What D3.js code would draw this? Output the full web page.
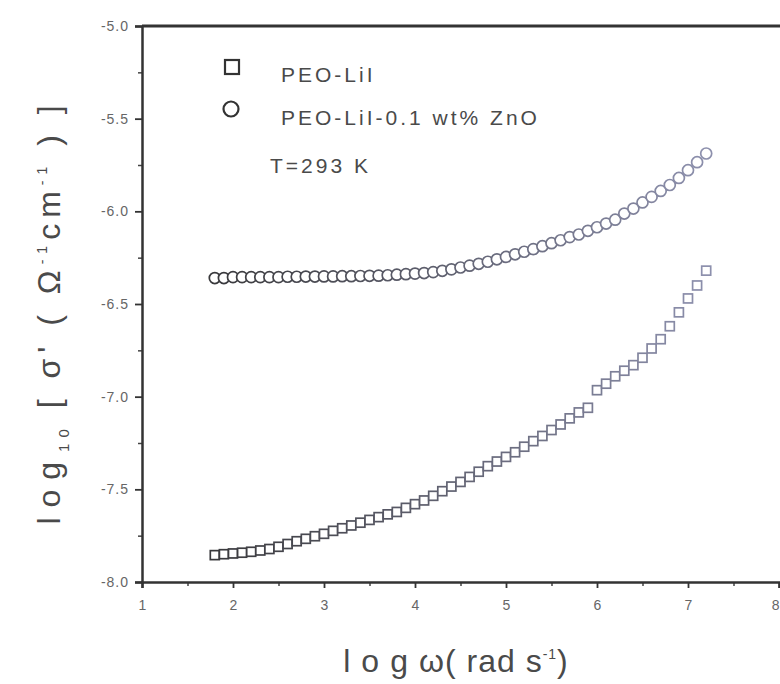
<!DOCTYPE html>
<html>
<head>
<meta charset="utf-8">
<script src="https://cdn.jsdelivr.net/npm/d3@7"></script>
<style>
	body { margin: 0; background: #fff; }
	svg { display: block; }
	.tick text { font-family: "Liberation Sans", Arial, sans-serif; fill: #666; }
</style>
</head>
<body>
<div id="chart"></div>
<script>
// log w values (rad s^-1), same frequency set for both samples
const logW = [1.8, 1.9, 2.0, 2.1, 2.2, 2.3, 2.4, 2.5, 2.6, 2.7, 2.8, 2.9, 3.0, 3.1, 3.2, 3.3, 3.4, 3.5, 3.6, 3.7,
	3.8, 3.9, 4.0, 4.1, 4.2, 4.3, 4.4, 4.5, 4.6, 4.7, 4.8, 4.9, 5.0, 5.1, 5.2, 5.3, 5.4, 5.5, 5.6, 5.7,
	5.8, 5.9, 6.0, 6.1, 6.2, 6.3, 6.4, 6.5, 6.6, 6.7, 6.8, 6.9, 7.0, 7.1, 7.2]

// PEO-LiI (squares)
const sigmaPeo = [-7.855, -7.85, -7.846, -7.842, -7.837, -7.83, -7.822, -7.81, -7.795, -7.78, -7.767, -7.753, -7.74, -7.724, -7.71, -7.695, -7.68, -7.665, -7.65, -7.635,
	-7.622, -7.6, -7.58, -7.56, -7.535, -7.51, -7.485, -7.46, -7.433, -7.405, -7.375, -7.35, -7.325, -7.3, -7.27, -7.24, -7.212, -7.18, -7.15, -7.117,
	-7.085, -7.06, -6.965, -6.93, -6.89, -6.86, -6.83, -6.79, -6.74, -6.69, -6.62, -6.545, -6.47, -6.4, -6.32]

// PEO-LiI-0.1 wt% ZnO (circles)
const sigmaZnO = [-6.36, -6.36, -6.355, -6.355, -6.355, -6.355, -6.355, -6.355, -6.353, -6.353, -6.352, -6.352, -6.351, -6.351, -6.35, -6.35, -6.349, -6.348, -6.347, -6.345,
	-6.342, -6.339, -6.336, -6.333, -6.328, -6.321, -6.313, -6.303, -6.293, -6.283, -6.272, -6.259, -6.246, -6.232, -6.218, -6.204, -6.188, -6.172, -6.156, -6.139,
	-6.125, -6.105, -6.086, -6.066, -6.045, -6.012, -5.985, -5.952, -5.922, -5.89, -5.858, -5.82, -5.778, -5.735, -5.688]

const xTicks = [1, 2, 3, 4, 5, 6, 7, 8]
const yTicks = [-5.0, -5.5, -6.0, -6.5, -7.0, -7.5, -8.0]
const yTickLabels = ["-5.0", "-5.5", "-6.0", "-6.5", "-7.0", "-7.5", "-8.0"]
const legendLabels = ["PEO-LiI", "PEO-LiI-0.1 wt% ZnO"]
const tempLabel = "T=293 K"

const w = 780, h = 684
const box = { left: 142, right: 779, top: 26, bottom: 582 }
const font = '"Liberation Sans", Arial, sans-serif'

const svg = d3.select("#chart").append("svg")
	.attr("width", w)
	.attr("height", h)

const x = d3.scaleLinear().domain([1, 8]).range([box.left, box.right])
const y = d3.scaleLinear().domain([-8, -5]).range([box.bottom, box.top])

// marker colour fades to the right like the photographed print
const shade = d3.scaleLinear().domain([2, 7.2]).range(["#3c3c40", "#8d90ad"])

// minor ticks
svg.append("g")
	.attr("transform", "translate(" + box.left + ",0)")
	.call(d3.axisLeft(y).tickValues(d3.range(-7.75, -5, 0.5)).tickSize(4).tickFormat(""))
	.call(g => g.select(".domain").remove())
	.call(g => g.selectAll("line").attr("stroke", "#444").attr("stroke-width", 1.5))

svg.append("g")
	.attr("transform", "translate(0," + box.bottom + ")")
	.call(d3.axisBottom(x).tickValues(d3.range(1.5, 8, 1)).tickSize(4).tickFormat(""))
	.call(g => g.select(".domain").remove())
	.call(g => g.selectAll("line").attr("stroke", "#444").attr("stroke-width", 1.5))

// major ticks
svg.append("g")
	.attr("transform", "translate(" + box.left + ",0)")
	.call(d3.axisLeft(y).tickValues(yTicks).tickSize(7).tickPadding(6)
		.tickFormat((d, i) => yTickLabels[i]))
	.call(g => g.select(".domain").attr("stroke", "#333").attr("stroke-width", 2.5))
	.call(g => g.selectAll("line").attr("stroke", "#333").attr("stroke-width", 1.8))
	.call(g => g.selectAll("text").style("font-size", "14px").style("letter-spacing", "1px"))

svg.append("g")
	.attr("transform", "translate(0," + box.bottom + ")")
	.call(d3.axisBottom(x).tickValues(xTicks).tickSize(6).tickPadding(12).tickFormat(d3.format("d")))
	.call(g => g.select(".domain").attr("stroke", "#333").attr("stroke-width", 2.5))
	.call(g => g.selectAll("line").attr("stroke", "#333").attr("stroke-width", 1.8))
	.call(g => g.selectAll("text").style("font-size", "14px"))
	.call(g => g.selectAll("text").filter(d => d === 8).attr("text-anchor", "end").attr("dx", 0))

// top frame line
svg.append("line")
	.attr("x1", box.left).attr("x2", w)
	.attr("y1", box.top).attr("y2", box.top)
	.attr("stroke", "#333")
	.attr("stroke-width", 3)

// squares
svg.append("g")
	.selectAll("rect")
	.data(logW)
	.enter()
	.append("rect")
	.attr("x", d => x(d) - 4.5)
	.attr("y", (d, i) => y(sigmaPeo[i]) - 4.5)
	.attr("width", 9)
	.attr("height", 9)
	.attr("fill", "#fff")
	.attr("stroke", d => shade(d))
	.attr("stroke-width", 1.7)

// circles
svg.append("g")
	.selectAll("circle")
	.data(logW)
	.enter()
	.append("circle")
	.attr("cx", d => x(d))
	.attr("cy", (d, i) => y(sigmaZnO[i]))
	.attr("r", 5.5)
	.attr("fill", "#fff")
	.attr("stroke", d => shade(d))
	.attr("stroke-width", 1.7)

// legend
var legend = svg.append("g")
	.style("font-family", font)
	.style("font-size", "21px")
	.style("letter-spacing", "3px")
	.attr("fill", "#4a4a4a")

legend.append("rect")
	.attr("x", 225).attr("y", 60)
	.attr("width", 14).attr("height", 14)
	.attr("fill", "none").attr("stroke", "#333").attr("stroke-width", 2.2)

legend.append("circle")
	.attr("cx", 231).attr("cy", 109).attr("r", 7.5)
	.attr("fill", "none").attr("stroke", "#333").attr("stroke-width", 2.2)

legend.selectAll("text.lab")
	.data(legendLabels)
	.enter()
	.append("text")
	.attr("class", "lab")
	.attr("x", 281)
	.attr("y", (d, i) => 82 + i * 43)
	.text(d => d)

legend.append("text")
	.attr("x", 270)
	.attr("y", 173)
	.text(tempLabel)

// x axis title
var xt = svg.append("text")
	.attr("x", 456)
	.attr("y", 672)
	.attr("text-anchor", "middle")
	.style("font-family", font)
	.style("font-size", "32px")
	.style("letter-spacing", "1px")
	.attr("fill", "#4a4a4a")
xt.append("tspan").style("letter-spacing", "11px").text("log")
xt.append("tspan").text("ω( rad s")
xt.append("tspan").attr("dy", -13).style("font-size", "14px").text("-1")
xt.append("tspan").attr("dy", 13).text(")")

// y axis title
var yt = svg.append("text")
	.attr("transform", "translate(60," + 312 + ") rotate(-90)")
	.attr("text-anchor", "middle")
	.style("font-family", font)
	.style("font-size", "32px")
	.style("letter-spacing", "6px")
	.attr("fill", "#4a4a4a")
yt.append("tspan").style("letter-spacing", "10px").text("log")
yt.append("tspan").attr("dy", 9).style("font-size", "15px").text("10")
yt.append("tspan").attr("dy", -9).text(" [ σ' ( Ω")
yt.append("tspan").attr("dy", -13).style("font-size", "14px").text("-1")
yt.append("tspan").attr("dy", 13).text("cm")
yt.append("tspan").attr("dy", -13).style("font-size", "14px").text("-1")
yt.append("tspan").attr("dy", 13).text(" ) ]")
</script>
</body>
</html>
